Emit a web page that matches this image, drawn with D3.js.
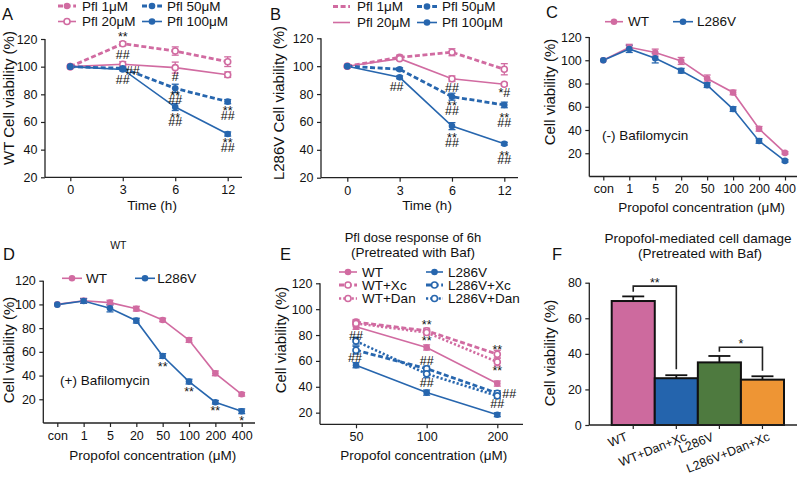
<!DOCTYPE html>
<html><head><meta charset="utf-8">
<script src="https://cdn.jsdelivr.net/npm/d3@7"></script>
<style>
body{margin:0;background:#fff}
svg{display:block}
</style></head><body>
<svg id="c" width="800" height="483"></svg>
<script>
// ---------------- DATA ----------------
const timeCats = ["0", "3", "6", "12"];
const doseCats = ["con", "1", "5", "20", "50", "100", "200", "400"];
const eDoseCats = ["50", "100", "200"];
const fCats = ["WT", "WT+Dan+Xc", "L286V", "L286V+Dan+Xc"];
const yTicksLine = [20, 40, 60, 80, 100, 120];
const yTicksF = [0, 20, 40, 60, 80];

// Panel A (WT, time course)
const aPfl1 = [100, 116.6, 111.3, 103.6];   const aPfl1Err = [0, 1.5, 3, 3.5];
const aPfl20 = [100, 101.7, 99.3, 94.2];    const aPfl20Err = [0, 2, 4, 2];
const aPfl50 = [100, 98.8, 84.3, 74.7];     const aPfl50Err = [0, 1, 3, 1.5];
const aPfl100 = [100, 98, 70.8, 51.3];      const aPfl100Err = [0, 1, 2.5, 1.5];
// [category, value (baseline), text, x-shift px]
const aMarks = [["3",118.3,"**",0],["3",105.8,"##",0],["3",93.7,"##",10],["3",87.2,"##",0],
  ["6",89.6,"#",0],["6",76.1,"**",0],["6",72.7,"##",0],["6",60.0,"**",0],["6",57.0,"##",0],
  ["12",64.8,"**",0],["12",61.1,"##",0],["12",41.9,"**",0],["12",38.5,"##",0]];

// Panel B (L286V, time course)
const bPfl1 = [100, 106.4, 110, 97.8];      const bPfl1Err = [0, 1.5, 2.5, 4];
const bPfl20 = [100, 105.4, 91, 87];        const bPfl20Err = [0, 1, 2, 1];
const bPfl50 = [100, 97.8, 78.1, 72.2];     const bPfl50Err = [0, 1, 2.5, 2];
const bPfl100 = [100, 92, 57, 44.4];        const bPfl100Err = [0, 1, 2.5, 1];
const bMarks = [["3",82.1,"##",-3],["6",81.7,"##",0],["6",68.4,"**",0],["6",64.7,"##",0],
  ["6",45.6,"**",0],["6",42.0,"##",0],["12",77.8,"*#",0],["12",60.0,"**",0],["12",56.3,"##",0],
  ["12",32.9,"**",0],["12",29.5,"##",0]];

// Panel C (- Bafilomycin)
const cWT = [100, 111.2, 106.6, 99.4, 84.3, 72.3, 41, 20.3];
const cWTErr = [0, 2.5, 3, 3, 3, 2, 2, 1];
const cL = [100, 109.7, 101.7, 91, 78.6, 58, 30.6, 13.4];
const cLErr = [0, 3, 4, 2, 2, 2, 2, 1];

// Panel D (+ Bafilomycin)
const dWT = [100, 103.1, 101.5, 96.4, 86.9, 70, 41.9, 24.2];
const dWTErr = [0, 2, 2, 2, 1.5, 2, 2, 1.5];
const dL = [99.8, 102.9, 96.7, 86.3, 56.5, 34.9, 17.5, 9.9];
const dLErr = [0, 2, 3, 2, 2, 2, 1.5, 2];
const dMarks = [["50",43.7,"**",0],["100",22.6,"**",0],["200",6.6,"**",0],["400",-1.8,"*",0]];

// Panel E (6 h dose response, Baf pretreated)
const eWT = [86.4, 70.4, 42.5];      const eWTErr = [2, 2, 2];
const eWTXc = [90, 83.3, 65.2];      const eWTXcErr = [2, 2, 3];
const eWTDan = [89, 82, 59.2];       const eWTDanErr = [2, 2, 3];
const eL = [56.7, 35.5, 18.4];       const eLErr = [2, 2, 1.5];
const eLXc = [68.3, 54, 35];         const eLXcErr = [3, 2, 2];
const eLDan = [75.3, 50, 33];        const eLDanErr = [3, 3, 2];
const eMarks = [["50",75.9,"##",0],["50",59.1,"##",-1],["100",84.4,"**",0],["100",72.1,"**",0],
  ["100",56.5,"##",0],["100",39.8,"##",0],["200",65.6,"**",0],["200",49.3,"**",0],
  ["200",31.0,"##",12],["200",23.8,"##",0]];

// Panel F (bars)
const fVals = [69.7, 26.3, 35.2, 25.5];
const fErr = [2.6, 1.7, 3.6, 1.9];
// significance: [leftCat, rightCat, topValue, leftBottom, rightBottom, label]
const fSig = [["WT","WT+Dan+Xc",78.1,74.9,31.3,"**"],["L286V","L286V+Dan+Xc",43.7,41.2,30.5,"*"]];

// ---------------- DRAWING ----------------
const svg = d3.select("#c");
const FONT = '"Liberation Sans", Arial, Helvetica, sans-serif';
const PINK = "#d16ba1", BLUE = "#2766ae";
const FCOLORS = ["#cd6a9e", "#2464ad", "#4e7a3f", "#ee9534"];
const STYLE = { solid:{w:1.6,dash:null}, dashed:{w:2.8,dash:"5,2.6"}, dotted:{w:2.6,dash:"2.2,2"} };

function txt(g, x, y, s, size, anchor) {
  return g.append("text").attr("x", x).attr("y", y).text(s)
    .attr("font-family", FONT).attr("font-size", size).attr("fill", "#111")
    .attr("text-anchor", anchor || "start");
}
function ylabel(g, x, y, s) {
  g.append("text").attr("transform", `translate(${x},${y}) rotate(-90)`).text(s)
    .attr("font-family", FONT).attr("font-size", 15).attr("fill", "#111").attr("text-anchor", "middle");
}
function axes(g, x, y, p) {
  const ya = g.append("g").attr("transform", `translate(${p.axX},0)`)
    .call(d3.axisLeft(y).tickValues(p.yTicks).tickSize(4).tickPadding(3.5));
  ya.select(".domain").remove();
  const xa = g.append("g").attr("transform", `translate(0,${p.yr[0]})`)
    .call(d3.axisBottom(x).tickSize(4).tickPadding(4).tickFormat(p.noXLabels ? () => "" : null));
  xa.select(".domain").remove();
  [ya, xa].forEach(a => {
    a.attr("font-family", FONT).attr("font-size", 12.5);
    a.selectAll("line").attr("stroke", "#222").attr("stroke-width", 1.2);
    a.selectAll("text").attr("fill", "#111");
  });
  g.append("line").attr("x1", p.axX).attr("x2", p.axX).attr("y1", y(d3.max(p.yTicks))).attr("y2", p.yr[0])
    .attr("stroke", "#222").attr("stroke-width", 1.3);
  g.append("line").attr("x1", p.axX).attr("x2", p.axEnd).attr("y1", p.yr[0]).attr("y2", p.yr[0])
    .attr("stroke", "#222").attr("stroke-width", 1.3);
  return xa;
}
function marker(g, cx, cy, color, open) {
  g.append("circle").attr("cx", cx).attr("cy", cy).attr("r", open ? 3 : 3.3)
    .attr("fill", open ? "#fff" : color).attr("stroke", color).attr("stroke-width", open ? 1.6 : 0);
}
function seg(g, x1, y1, x2, y2, color, st) {
  const l = g.append("line").attr("x1", x1).attr("y1", y1).attr("x2", x2).attr("y2", y2)
    .attr("stroke", color).attr("stroke-width", st.w);
  if (st.dash) l.attr("stroke-dasharray", st.dash);
  return l;
}

function linePanel(p) {
  const g = svg.append("g");
  const x = d3.scalePoint().domain(p.cats).range(p.xr);
  const y = d3.scaleLinear().domain(p.yd).range(p.yr);
  axes(g, x, y, p);
  p.series.forEach(s => {
    p.cats.forEach((c, i) => {
      const e = s.errs[i]; if (!e) return;
      const cx = x(c), y1 = y(s.vals[i] + e), y2 = y(s.vals[i] - e);
      g.append("line").attr("x1", cx).attr("x2", cx).attr("y1", y1).attr("y2", y2).attr("stroke", s.color).attr("stroke-width", 1.3);
      [y1, y2].forEach(yy => g.append("line").attr("x1", cx - 3.5).attr("x2", cx + 3.5).attr("y1", yy).attr("y2", yy).attr("stroke", s.color).attr("stroke-width", 1.3));
    });
  });
  p.series.forEach(s => {
    const st = STYLE[s.style];
    const path = g.append("path").datum(s.vals)
      .attr("d", d3.line().x((d, i) => x(p.cats[i])).y(d => y(d)))
      .attr("fill", "none").attr("stroke", s.color).attr("stroke-width", st.w);
    if (st.dash) path.attr("stroke-dasharray", st.dash);
  });
  p.series.forEach(s => p.cats.forEach((c, i) => marker(g, x(c), y(s.vals[i]), s.color, s.open)));
  (p.marks || []).forEach(m => txt(g, x(m[0]) + m[3], y(m[1]), m[2], 12.5, "middle"));
  p.legend.forEach(L => {
    const s = p.series[L.i], col = p.legCols[L.col], yy = p.legRows[L.row];
    seg(g, col[0], yy, col[1], yy, s.color, STYLE[s.style]);
    if (L.mk !== "none") marker(g, (col[0] + col[1]) / 2, yy, s.color, L.mk === "open");
    txt(g, col[2], yy + 4.7, s.name, 13.5);
  });
  return { g, x, y };
}

// ---- Panel A
const A = linePanel({
  cats: timeCats, xr: [70.3, 227.7], yd: [20, 120], yr: [177.3, 39], axX: 45, axEnd: 242, yTicks: yTicksLine,
  series: [
    { name: "Pfl 1μM", vals: aPfl1, errs: aPfl1Err, color: PINK, style: "dashed", open: true },
    { name: "Pfl 20μM", vals: aPfl20, errs: aPfl20Err, color: PINK, style: "solid", open: true },
    { name: "Pfl 50μM", vals: aPfl50, errs: aPfl50Err, color: BLUE, style: "dashed", open: false },
    { name: "Pfl 100μM", vals: aPfl100, errs: aPfl100Err, color: BLUE, style: "solid", open: false }],
  marks: aMarks,
  legCols: [[58, 76, 82], [142, 162, 167]], legRows: [6, 21.5],
  legend: [{i:0,col:0,row:0,mk:"filled"},{i:1,col:0,row:1,mk:"open"},{i:2,col:1,row:0,mk:"filled"},{i:3,col:1,row:1,mk:"filled"}]
});
txt(A.g, 2, 20, "A", 16.5);
ylabel(A.g, 13.5, 98, "WT Cell viability (%)");
txt(A.g, 152, 209.5, "Time (h)", 13.5, "middle");

// ---- Panel B
const B = linePanel({
  cats: timeCats, xr: [347.3, 504.3], yd: [20, 120], yr: [177.7, 38.3], axX: 321, axEnd: 518, yTicks: yTicksLine,
  series: [
    { name: "Pfl 1μM", vals: bPfl1, errs: bPfl1Err, color: PINK, style: "dashed", open: true },
    { name: "Pfl 20μM", vals: bPfl20, errs: bPfl20Err, color: PINK, style: "solid", open: true },
    { name: "Pfl 50μM", vals: bPfl50, errs: bPfl50Err, color: BLUE, style: "dashed", open: false },
    { name: "Pfl 100μM", vals: bPfl100, errs: bPfl100Err, color: BLUE, style: "solid", open: false }],
  marks: bMarks,
  legCols: [[333, 350, 357], [417, 437, 442]], legRows: [6.5, 22.5],
  legend: [{i:0,col:0,row:0,mk:"none"},{i:1,col:0,row:1,mk:"none"},{i:2,col:1,row:0,mk:"filled"},{i:3,col:1,row:1,mk:"filled"}]
});
txt(B.g, 270, 20, "B", 16.5);
ylabel(B.g, 284, 103, "L286V Cell viability (%)");
txt(B.g, 427, 209.5, "Time (h)", 13.5, "middle");

// ---- Panel C
const C = linePanel({
  cats: doseCats, xr: [603.3, 785], yd: [0, 120], yr: [176.5, 37], axX: 589.3, axEnd: 797, yTicks: yTicksLine,
  series: [
    { name: "WT", vals: cWT, errs: cWTErr, color: PINK, style: "solid", open: false },
    { name: "L286V", vals: cL, errs: cLErr, color: BLUE, style: "solid", open: false }],
  legCols: [[605, 623, 628], [673, 693, 697]], legRows: [21.7],
  legend: [{i:0,col:0,row:0,mk:"filled"},{i:1,col:1,row:0,mk:"filled"}]
});
txt(C.g, 546, 18, "C", 16.5);
ylabel(C.g, 555, 92, "Cell viability (%)");
txt(C.g, 602, 139.5, "(-) Bafilomycin", 13.5);
txt(C.g, 701.7, 211.5, "Propofol concentration (μM)", 13.5, "middle");

// ---- Panel D
const D = linePanel({
  cats: doseCats, xr: [57.3, 241.7], yd: [0, 120], yr: [423, 280.7], axX: 43.3, axEnd: 255, yTicks: yTicksLine,
  series: [
    { name: "WT", vals: dWT, errs: dWTErr, color: PINK, style: "solid", open: false },
    { name: "L286V", vals: dL, errs: dLErr, color: BLUE, style: "solid", open: false }],
  marks: dMarks,
  legCols: [[62, 82, 86], [135, 155, 157.3]], legRows: [278.3],
  legend: [{i:0,col:0,row:0,mk:"filled"},{i:1,col:1,row:0,mk:"filled"}]
});
txt(D.g, 3, 260, "D", 16.5);
txt(D.g, 118.3, 249, "WT", 10.5, "middle");
ylabel(D.g, 13.5, 350, "Cell viability (%)");
txt(D.g, 60, 384.5, "(+) Bafilomycin", 13.5);
txt(D.g, 152.8, 460, "Propofol concentration (μM)", 13.5, "middle");

// ---- Panel E
const E = linePanel({
  cats: eDoseCats, xr: [356, 497.3], yd: [11, 120], yr: [424.3, 283.3], axX: 320, axEnd: 523, yTicks: yTicksLine,
  series: [
    { name: "WT", vals: eWT, errs: eWTErr, color: PINK, style: "solid", open: false },
    { name: "WT+Xc", vals: eWTXc, errs: eWTXcErr, color: PINK, style: "dashed", open: true },
    { name: "WT+Dan", vals: eWTDan, errs: eWTDanErr, color: PINK, style: "dotted", open: true },
    { name: "L286V", vals: eL, errs: eLErr, color: BLUE, style: "solid", open: false },
    { name: "L286V+Xc", vals: eLXc, errs: eLXcErr, color: BLUE, style: "dashed", open: true },
    { name: "L286V+Dan", vals: eLDan, errs: eLDanErr, color: BLUE, style: "dotted", open: true }],
  marks: eMarks,
  legCols: [[339, 357, 362], [426, 443, 448]], legRows: [272, 285, 298.5],
  legend: [{i:0,col:0,row:0,mk:"filled"},{i:1,col:0,row:1,mk:"open"},{i:2,col:0,row:2,mk:"open"},
           {i:3,col:1,row:0,mk:"filled"},{i:4,col:1,row:1,mk:"open"},{i:5,col:1,row:2,mk:"open"}]
});
txt(E.g, 280, 260, "E", 16.5);
txt(E.g, 413, 242, "Pfl dose response of 6h", 13, "middle");
txt(E.g, 413, 257, "(Pretreated with Baf)", 13.5, "middle");
ylabel(E.g, 286, 340, "Cell viability (%)");
txt(E.g, 423.8, 460, "Propofol concentration (μM)", 13.5, "middle");

// ---- Panel F
(function () {
  const g = svg.append("g");
  const p = { axX: 589.3, axEnd: 797, yr: [425, 282.7], yTicks: yTicksF, noXLabels: true };
  const x = d3.scaleBand().domain(fCats).range([611.7, 784]).padding(0);
  const y = d3.scaleLinear().domain([0, 80]).range(p.yr);
  fCats.forEach((c, i) => {
    g.append("rect").attr("x", x(c)).attr("y", y(fVals[i])).attr("width", x.bandwidth()).attr("height", y(0) - y(fVals[i]))
      .attr("fill", FCOLORS[i]).attr("stroke", "#111").attr("stroke-width", 2);
    const cx = x(c) + x.bandwidth() / 2;
    g.append("line").attr("x1", cx).attr("x2", cx).attr("y1", y(fVals[i])).attr("y2", y(fVals[i] + fErr[i])).attr("stroke", "#111").attr("stroke-width", 1.8);
    g.append("line").attr("x1", cx - 11).attr("x2", cx + 11).attr("y1", y(fVals[i] + fErr[i])).attr("y2", y(fVals[i] + fErr[i])).attr("stroke", "#111").attr("stroke-width", 1.8);
  });
  axes(g, x, y, p);
  // layout: long labels sit further right, as in the source figure
  const labelShift = [0, 16, 0, 13];
  fCats.forEach((c, i) => {
    const ax = x(c) + x.bandwidth() / 2 - 5 + labelShift[i];
    g.append("text").attr("transform", `translate(${ax},440) rotate(-22)`).text(c)
      .attr("font-family", FONT).attr("font-size", 12.5).attr("fill", "#111").attr("text-anchor", "end");
  });
  fSig.forEach(s => {
    const xl = x(s[0]) + x.bandwidth() / 2, xr = x(s[1]) + x.bandwidth() / 2;
    g.append("path").attr("d", `M${xl},${y(s[3])}V${y(s[2])}H${xr}V${y(s[4])}`)
      .attr("fill", "none").attr("stroke", "#222").attr("stroke-width", 1.6);
    txt(g, (xl + xr) / 2, y(s[2]) + 1, s[5], 12.5, "middle");
  });
  txt(g, 552, 260, "F", 16.5);
  txt(g, 698, 242.5, "Propofol-mediated cell damage", 13.5, "middle");
  txt(g, 700, 258, "(Pretreated with Baf)", 13.5, "middle");
  ylabel(g, 555, 353, "Cell viability (%)");
})();
</script>
</body></html>
